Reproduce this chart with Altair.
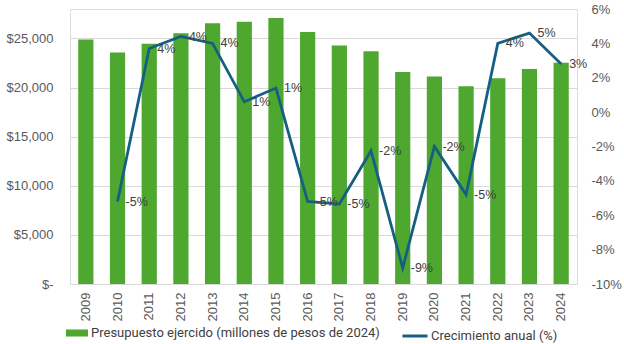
import altair as alt
import pandas as pd

years = [str(y) for y in range(2009, 2025)]
presupuesto = [24900, 23580, 24460, 25530, 26550, 26690, 27090, 25670,
               24290, 23710, 21580, 21140, 20130, 20940, 21880, 22530]
crecimiento = [None, -5.2, 3.7, 4.4, 4.0, 0.6, 1.4, -5.2,
               -5.35, -2.25, -9.07, -2.0, -4.8, 4.0, 4.6, 2.8]

bar_label = "Presupuesto ejercido (millones de pesos de 2024)"
line_label = "Crecimiento anual (%)"

df = pd.DataFrame({"year": years, "p": presupuesto, "g": crecimiento,
                   "s1": bar_label, "s2": line_label})

FONT = "Liberation Sans"
GRAY = "#595959"
GREEN = "#4ea72e"
BLUE = "#156082"

x = alt.X("year:O", title=None,
          scale=alt.Scale(paddingInner=0.52, paddingOuter=0.26),
          axis=alt.Axis(labelAngle=270, labelFont=FONT, labelFontSize=13,
                        labelColor=GRAY, ticks=False, domain=False,
                        labelPadding=8, grid=False))

base = alt.Chart(df)

bars = base.mark_bar().encode(
    x=x,
    y=alt.Y("p:Q", title=None,
            scale=alt.Scale(domain=[0, 28000], nice=False),
            axis=alt.Axis(values=[0, 5000, 10000, 15000, 20000, 25000],
                          labelExpr="datum.value == 0 ? '$-  ' : '$' + format(datum.value, ',')",
                          labelFont=FONT, labelFontSize=13, labelColor=GRAY,
                          ticks=False, domain=False, labelPadding=17,
                          grid=True, gridColor="#d9d9d9", gridWidth=1)),
    color=alt.Color("s1:N",
                    scale=alt.Scale(domain=[bar_label], range=[GREEN]),
                    legend=alt.Legend(title=None, orient="none", legendX=-4, legendY=313,
                                      symbolType="M-1,-0.32H1V0.32H-1Z",
                                      symbolSize=484, symbolStrokeWidth=0,
                                      symbolOpacity=1, labelLimit=400,
                                      labelFont="Roboto", labelFontSize=13,
                                      labelColor="#404040", labelOffset=3)),
)

gdf_y = alt.Y("g:Q", title=None,
              scale=alt.Scale(domain=[-10, 6], nice=False),
              axis=alt.Axis(orient="right", values=list(range(-10, 7, 2)),
                            labelExpr="datum.value + '%'",
                            labelFont=FONT, labelFontSize=13, labelColor=GRAY,
                            ticks=False, domain=False, labelPadding=14, grid=False))

line = base.mark_line(strokeWidth=2.8).encode(
    x=x,
    y=gdf_y,
    stroke=alt.Stroke("s2:N",
                      scale=alt.Scale(domain=[line_label], range=[BLUE]),
                      legend=alt.Legend(title=None, orient="none", legendX=331, legendY=313,
                                        symbolType="stroke", symbolSize=625,
                                        symbolStrokeWidth=3, labelLimit=300,
                                        labelFont="Roboto", labelFontSize=13,
                                        labelColor="#404040", labelOffset=2)),
).transform_filter("datum.g != null")

text = base.transform_filter("datum.g != null").transform_calculate(
    lbl="round(datum.g) + '%'"
).mark_text(align="left", baseline="middle", dx=8, font=FONT,
            fontSize=12.5, color="#404040").encode(
    x=x,
    y=gdf_y,
    text="lbl:N",
)

right = alt.layer(line, text)

chart = alt.layer(bars, right).resolve_scale(y="independent").properties(
    width=507, height=275,
    autosize=alt.AutoSizeParams(type="none"),
    padding={"left": 70, "top": 9, "right": 47, "bottom": 60},
).configure_view(stroke=None).configure(background="white")

chart.save("out.html", embed_options={"renderer": "svg", "actions": False})
